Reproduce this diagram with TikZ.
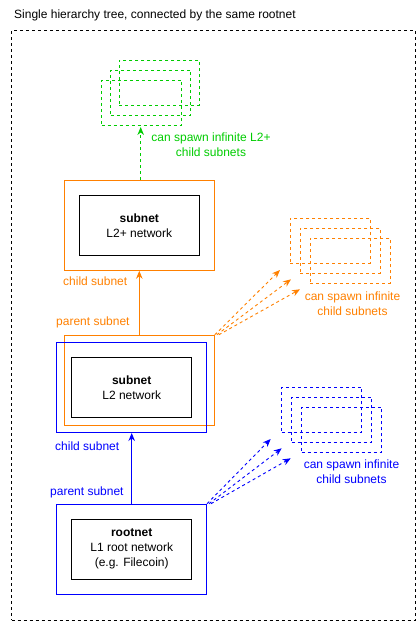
\documentclass[tikz,border=0pt]{standalone}
\usepackage{fontspec}
\setmainfont{Liberation Sans}
\usetikzlibrary{arrows.meta}
\definecolor{dgreen}{HTML}{00CC00}
\definecolor{dorange}{HTML}{FF8000}
\definecolor{dblue}{HTML}{0000FF}
\tikzset{
  px/.style={x=1pt,y=-1pt},
  lbl/.style={font=\fontsize{12}{15}\selectfont, inner sep=0pt},
  bigbox/.style={draw, line width=1pt, minimum width=150pt, minimum height=90pt, inner sep=0pt},
  innerbox/.style={draw=black, line width=1pt, minimum width=120pt, minimum height=60pt, inner sep=0pt, align=center, font=\fontsize{12}{15}\selectfont},
  ghost/.style={draw, dashed, dash pattern=on 3pt off 3pt, line width=0.9pt, minimum width=80pt, minimum height=45pt, inner sep=0pt},
  solidarrow/.style={line width=1pt, -{Stealth[length=8pt,width=6.5pt]}},
  dasharrow/.style={line width=0.9pt, dash pattern=on 3pt off 3pt, -{Stealth[length=8pt,width=6.5pt]}},
}
\begin{document}
\begin{tikzpicture}[px]
\useasboundingbox (0,0) rectangle (417,621);
% title and outer frame
\node[lbl, anchor=west] (title) at (14,15) {Single hierarchy tree, connected by the same rootnet};
\node[draw, dashed, dash pattern=on 3pt off 3pt, line width=0.9pt, minimum width=403.5pt, minimum height=590pt, inner sep=0pt] (frame) at (213.25,325) {};

% green ghost subnets
\node[ghost, draw=dgreen] (g1) at (159.3,82.5) {};
\node[ghost, draw=dgreen] (g2) at (150.8,92.5) {};
\node[ghost, draw=dgreen] (g3) at (141.7,102.5) {};
\node[lbl, text=dgreen, align=center] (gtxt) at (211,145) {can spawn infinite L2+\\child subnets};

% L2+ subnet
\node[bigbox, draw=dorange] (l2p) at (139.3,225.3) {};
\node[innerbox] (l2pin) at (139.3,225.3) {\textbf{subnet}\\L2+ network};
\node[lbl, text=dorange, anchor=west] (ochild) at (63,281.7) {child subnet};

% orange ghost subnets
\node[ghost, draw=dorange] (o1) at (330.3,240.8) {};
\node[ghost, draw=dorange] (o2) at (340.3,250.8) {};
\node[ghost, draw=dorange] (o3) at (350.3,260.8) {};
\node[lbl, text=dorange, align=center] (otxt) at (352.5,303.5) {can spawn infinite\\child subnets};

% L2 subnet (orange parent + blue child)
\node[lbl, text=dorange, anchor=west] (oparent) at (56,322.7) {parent subnet};
\node[bigbox, draw=dorange] (l2o) at (139.3,380.3) {};
\node[bigbox, draw=dblue] (l2b) at (131.7,387.5) {};
\node[innerbox] (l2in) at (131.7,387.3) {\textbf{subnet}\\L2 network};
\node[lbl, text=dblue, anchor=west] (bchild) at (55,446.7) {child subnet};

% blue ghost subnets
\node[ghost, draw=dblue] (b1) at (321.7,409.8) {};
\node[ghost, draw=dblue] (b2) at (331.7,419.8) {};
\node[ghost, draw=dblue] (b3) at (341.7,429.8) {};
\node[lbl, text=dblue, align=center] (btxt) at (351.5,472) {can spawn infinite\\child subnets};

% root
\node[lbl, text=dblue, anchor=west] (bparent) at (50,492.3) {parent subnet};
\node[bigbox, draw=dblue] (root) at (131.5,549.2) {};
\node[innerbox] (rootin) at (131.7,549.3) {\textbf{rootnet}\\L1 root network\\(e.g. Filecoin)};

% arrow end points
\coordinate (gtip) at (140.7,127);
\coordinate (ot1) at (280,270);
\coordinate (ot2) at (291,279.3);
\coordinate (ot3) at (300,289.3);
\coordinate (bt1) at (270.7,439);
\coordinate (bt2) at (281.7,448.3);
\coordinate (bt3) at (290.7,458.3);

% connectors
\draw[dasharrow, dgreen] (l2p.north -| gtip) -- (gtip);
\draw[solidarrow, dorange] (l2o.north) -- (l2p.south);
\draw[solidarrow, dblue] (root.north -| l2b.south) -- (l2b.south);
\draw[dasharrow, dorange] (l2o.north east) -- (ot1);
\draw[dasharrow, dorange] ([xshift=2pt]l2o.north east) -- (ot2);
\draw[dasharrow, dorange] ([xshift=4pt]l2o.north east) -- (ot3);
\draw[dasharrow, dblue] (root.north east) -- (bt1);
\draw[dasharrow, dblue] ([xshift=2pt]root.north east) -- (bt2);
\draw[dasharrow, dblue] ([xshift=4pt]root.north east) -- (bt3);
\end{tikzpicture}
\end{document}
